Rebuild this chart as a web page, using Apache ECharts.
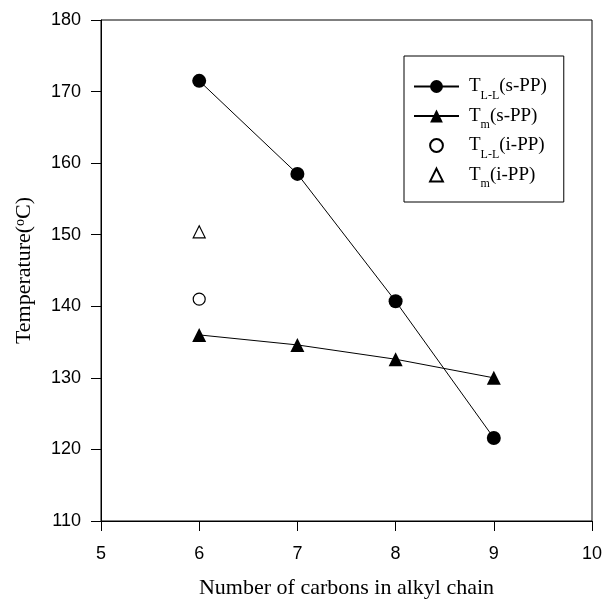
<!DOCTYPE html>
<html>
<head>
<meta charset="utf-8">
<script src="https://cdn.jsdelivr.net/npm/echarts@6/dist/echarts.min.js"></script>
<style>
  html, body { margin: 0; padding: 0; background: #fff; }
  #chart { width: 612px; height: 600px; }
</style>
</head>
<body>
<div id="chart"></div>
<script>
// Transition temperatures vs. alkyl chain length
const carbons = [6, 7, 8, 9];
const tLL_sPP = [171.5, 158.5, 140.7, 121.6];
const tm_sPP = [136.0, 134.6, 132.6, 130.0];
const iPPCarbons = [6];
const tLL_iPP = [141.0];
const tm_iPP = [150.4];

const legendLabels = {
  TLL_s: '{g|}{t|T}{sub|L-L}{t|(s-PP)}',
  Tm_s: '{g|}{t|T}{sub|m}{t|(s-PP)}',
  TLL_i: '{g|}{t|T}{sub|L-L}{t|(i-PP)}',
  Tm_i: '{g|}{t|T}{sub|m}{t|(i-PP)}'
};

const xTicks = { min: 5, max: 10, interval: 1 };
const yTicks = { min: 110, max: 180, interval: 10 };

const pairs = (xs, ys) => xs.map((x, i) => [x, ys[i]]);

const serif = 'Liberation Serif, Times New Roman, serif';
const sans = 'Liberation Sans, Arial, sans-serif';

const hiddenLine = { width: 0, opacity: 0 };

const chart = echarts.init(document.getElementById('chart'), null, { renderer: 'canvas' });
chart.setOption({
  animation: false,
  backgroundColor: '#fff',
  grid: {
    left: 101, right: 20, top: 20, bottom: 79,
    outerBoundsMode: 'none', containLabel: false,
    show: true, borderColor: '#000', borderWidth: 1
  },
  legend: {
    orient: 'vertical',
    left: 404,
    top: 56,
    data: [
      { name: 'TLL_s' },
      { name: 'Tm_s' },
      { name: 'TLL_i', lineStyle: hiddenLine },
      { name: 'Tm_i', lineStyle: hiddenLine }
    ],
    itemWidth: 45,
    itemHeight: 16,
    itemGap: 5,
    padding: [21, 17, 12, 9],
    borderColor: '#000',
    borderWidth: 1,
    backgroundColor: '#fff',
    formatter: name => legendLabels[name],
    textStyle: {
      color: '#000',
      rich: {
        g: { width: 5 },
        t: { fontFamily: serif, fontSize: 19, color: '#000', lineHeight: 20, verticalAlign: 'middle' },
        sub: { fontFamily: serif, fontSize: 12, color: '#000', lineHeight: 20, verticalAlign: 'bottom', padding: [0, 0, -5, 0] }
      }
    }
  },
  xAxis: {
    type: 'value',
    min: xTicks.min, max: xTicks.max, interval: xTicks.interval,
    name: 'Number of carbons in alkyl chain',
    nameLocation: 'middle',
    nameGap: 56,
    nameTextStyle: { fontFamily: serif, fontSize: 22, color: '#000' },
    axisLine: { lineStyle: { color: '#000', width: 1 } },
    axisTick: { length: 10, lineStyle: { color: '#000' } },
    axisLabel: { fontFamily: sans, fontSize: 18, color: '#000', margin: 24 },
    splitLine: { show: false }
  },
  yAxis: {
    type: 'value',
    min: yTicks.min, max: yTicks.max, interval: yTicks.interval,
    name: 'Temperature({sup|o}C)',
    nameLocation: 'middle',
    nameGap: 66,
    nameTextStyle: {
      fontFamily: serif, fontSize: 22, color: '#000',
      rich: {
        sup: { fontFamily: serif, fontSize: 14, color: '#000', verticalAlign: 'top', padding: [0, 0, 8, 0] }
      }
    },
    axisLine: { lineStyle: { color: '#000', width: 1 } },
    axisTick: { length: 10, lineStyle: { color: '#000' } },
    axisLabel: { fontFamily: sans, fontSize: 18, color: '#000', margin: 20 },
    splitLine: { show: false }
  },
  series: [
    {
      name: 'TLL_s', type: 'line', data: pairs(carbons, tLL_sPP),
      symbol: 'circle', symbolSize: 14,
      lineStyle: { color: '#000', width: 1 },
      itemStyle: { color: '#000' }
    },
    {
      name: 'Tm_s', type: 'line', data: pairs(carbons, tm_sPP),
      symbol: 'triangle', symbolSize: 14,
      lineStyle: { color: '#000', width: 1 },
      itemStyle: { color: '#000' }
    },
    {
      name: 'TLL_i', type: 'line', data: pairs(iPPCarbons, tLL_iPP),
      symbol: 'circle', symbolSize: 12, showAllSymbol: true,
      lineStyle: hiddenLine,
      itemStyle: { color: '#fff', borderColor: '#000', borderWidth: 1.2 }
    },
    {
      name: 'Tm_i', type: 'line', data: pairs(iPPCarbons, tm_iPP),
      symbol: 'triangle', symbolSize: 12, showAllSymbol: true,
      lineStyle: hiddenLine,
      itemStyle: { color: '#fff', borderColor: '#000', borderWidth: 1.2 }
    }
  ]
});
</script>
</body>
</html>
